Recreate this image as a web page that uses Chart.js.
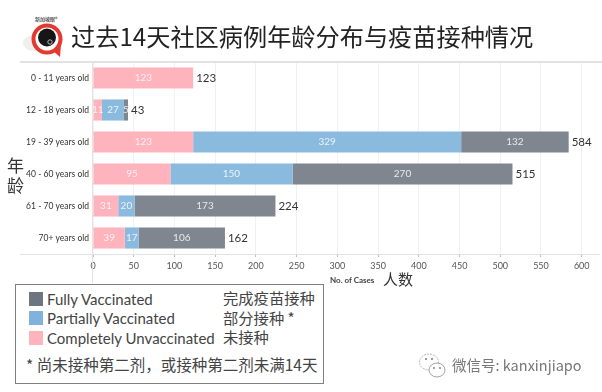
<!DOCTYPE html>
<html><head><meta charset="utf-8">
<script src="https://cdn.jsdelivr.net/npm/chart.js@4"></script>
<style>
html,body{margin:0;padding:0;background:#fff;overflow:hidden}
#wrap{position:relative;width:602px;height:392px;font-family:"Noto Sans CJK SC",sans-serif;filter:blur(0.3px)}
canvas{position:absolute;left:0;top:0}
.t{position:absolute;white-space:nowrap;line-height:1}
.sw{position:absolute;width:14px;height:14px}
svg{position:absolute}
</style></head><body>
<div id="wrap">
<canvas id="c" width="602" height="392"></canvas>
<svg style="left:20px;top:12px" width="60" height="50" viewBox="20 12 60 50">
  <ellipse cx="34" cy="43" rx="11" ry="8" fill="#efefef"/>
  <path d="M52 50 L60 57 L61 44 Z" fill="#e23a30"/>
  <circle cx="47" cy="39" r="13.5" fill="#fff" stroke="#e23a30" stroke-width="4"/>
  <circle cx="47" cy="37.5" r="9" fill="#161616"/>
  <circle cx="50" cy="42" r="2.2" fill="none" stroke="#ddd" stroke-width="0.8"/>
</svg>
<div class="t" style="left:35px;top:16px;font-size:5px;color:#555;font-weight:700">新加坡眼®</div>
<div class="t" id="title" style="left:71px;top:24px;font-size:24.2px;color:#222">过去14天社区病例年龄分布与疫苗接种情况</div>
<div class="t" style="left:7px;top:156px;font-size:17px;color:#333">年</div>
<div class="t" style="left:7px;top:176px;font-size:17px;color:#333">龄</div>
<div class="t" style="left:330px;top:275px;font:bold 8px Lato,sans-serif;color:#444">No. of Cases</div>
<div class="t" style="left:383px;top:271px;font-size:15px;color:#333">人数</div>

<div style="position:absolute;left:15px;top:284px;width:307px;height:98px;border:1px solid #808080;background:#fff"></div>
<div class="sw" style="left:29px;top:292px;background:#6f7580"></div>
<div class="sw" style="left:29px;top:311px;background:#7fb3dc"></div>
<div class="sw" style="left:29px;top:331px;background:#ffb3bc"></div>
<div class="t" style="left:47px;top:290px;font:15px Lato,sans-serif;color:#444">Fully Vaccinated</div>
<div class="t" style="left:47px;top:309px;font:15px Lato,sans-serif;color:#444">Partially Vaccinated</div>
<div class="t" style="left:47px;top:329px;font:15px Lato,sans-serif;color:#444">Completely Unvaccinated</div>
<div class="t" style="left:223px;top:290px;font-size:15.3px;color:#444">完成疫苗接种</div>
<div class="t" style="left:223px;top:310px;font-size:15.3px;color:#444">部分接种 *</div>
<div class="t" style="left:223px;top:329px;font-size:15.3px;color:#444">未接种</div>
<div class="t" style="left:26px;top:357px;font-size:15.5px;color:#444">* 尚未接种第二剂，或接种第二剂未满14天</div>

<svg style="left:418px;top:352px" width="30" height="28" viewBox="0 0 30 28">
  <ellipse cx="11" cy="10" rx="9.5" ry="8" fill="#fff" stroke="#aaa" stroke-width="0.9" stroke-dasharray="2 1"/>
  <ellipse cx="19" cy="18" rx="8" ry="7" fill="#fff" stroke="#999" stroke-width="0.9"/>
  <circle cx="8" cy="7" r="1" fill="#777"/><circle cx="14" cy="7" r="1" fill="#777"/>
  <circle cx="16" cy="16" r="0.9" fill="#777"/><circle cx="22" cy="16" r="0.9" fill="#777"/>
</svg>
<div class="t" style="left:452px;top:358px;font-size:14.5px;color:#777">微信号: kanxinjiapo</div>
</div>
<script>
const categories = ["0 - 11 years old","12 - 18 years old","19 - 39 years old","40 - 60 years old","61 - 70 years old","70+ years old"];
const unvaccinated = [123,11,123,95,31,39];
const partial = [0,27,329,150,20,17];
const fully = [0,5,132,270,173,106];
const totals = [123,43,584,515,224,162];
const xTickStep = 50;
const xMax = 620;

const frame = {
  id:'frame',
  afterDatasetsDraw(ch){
    const {ctx,chartArea:a} = ch;
    ctx.save();
    ctx.strokeStyle='#e2e2e2';
    ctx.lineWidth=2;
    ctx.beginPath();ctx.moveTo(20,a.top);ctx.lineTo(602,a.top);ctx.stroke();
    ctx.lineWidth=1;
    ctx.beginPath();ctx.moveTo(20,a.bottom+.5);ctx.lineTo(a.right+2,a.bottom+.5);ctx.stroke();
    ctx.beginPath();ctx.moveTo(a.left-.5,a.top);ctx.lineTo(a.left-.5,283);ctx.stroke();
    ctx.restore();
  }
};
const labels = {
  id:'labels',
  afterDatasetsDraw(ch){
    const {ctx} = ch;
    ctx.save();
    ctx.textBaseline='middle';
    ch.data.datasets.forEach((d,i)=>{
      ch.getDatasetMeta(i).data.forEach((bar,j)=>{
        const v=d.data[j];
        if(!v) return;
        ctx.textAlign='center';
        ctx.fillStyle='rgba(255,255,255,0.82)';
        ctx.font='10px Lato, sans-serif';
        ctx.fillText(v,(bar.x+bar.base)/2,bar.y);
      });
    });
    const last=ch.getDatasetMeta(0).data;
    const x=ch.scales.x;
    ctx.textAlign='left';
    ctx.fillStyle='#333';
    ctx.font='11.5px Lato, sans-serif';
    totals.forEach((t,j)=>ctx.fillText(t,x.getPixelForValue(t)+3,last[j].y));
    ctx.restore();
  }
};
new Chart(document.getElementById('c'),{
  type:'bar',
  data:{labels:categories,datasets:[
    {label:'Completely Unvaccinated',data:unvaccinated,backgroundColor:'#ffb3bc'},
    {label:'Partially Vaccinated',data:partial,backgroundColor:'#8abbdf'},
    {label:'Fully Vaccinated',data:fully,backgroundColor:'#80868f'}
  ]},
  options:{
    indexAxis:'y',responsive:false,animation:false,
    layout:{padding:{top:62,right:4,left:0,bottom:0}},
    datasets:{bar:{categoryPercentage:0.66,barPercentage:1}},
    plugins:{legend:{display:false},tooltip:{enabled:false},title:{display:false}},
    scales:{
      x:{stacked:true,min:0,max:xMax,
        afterFit(s){s.height=138;},
        grid:{color:'#f1f1f1',drawTicks:true,tickLength:3,tickColor:'#bbb'},
        border:{display:false},
        ticks:{stepSize:xTickStep,includeBounds:false,maxRotation:0,autoSkip:false,padding:4,color:'#555',font:{size:9,family:'Lato, sans-serif'}}
      },
      y:{stacked:true,
        afterFit(s){s.width=93;},
        grid:{display:false,drawTicks:false},
        border:{display:false},
        ticks:{padding:4,color:'#333',autoSkip:false,font:{size:8.5,family:'Lato, sans-serif'}}
      }
    }
  },
  plugins:[frame,labels]
});
</script>
</body></html>
